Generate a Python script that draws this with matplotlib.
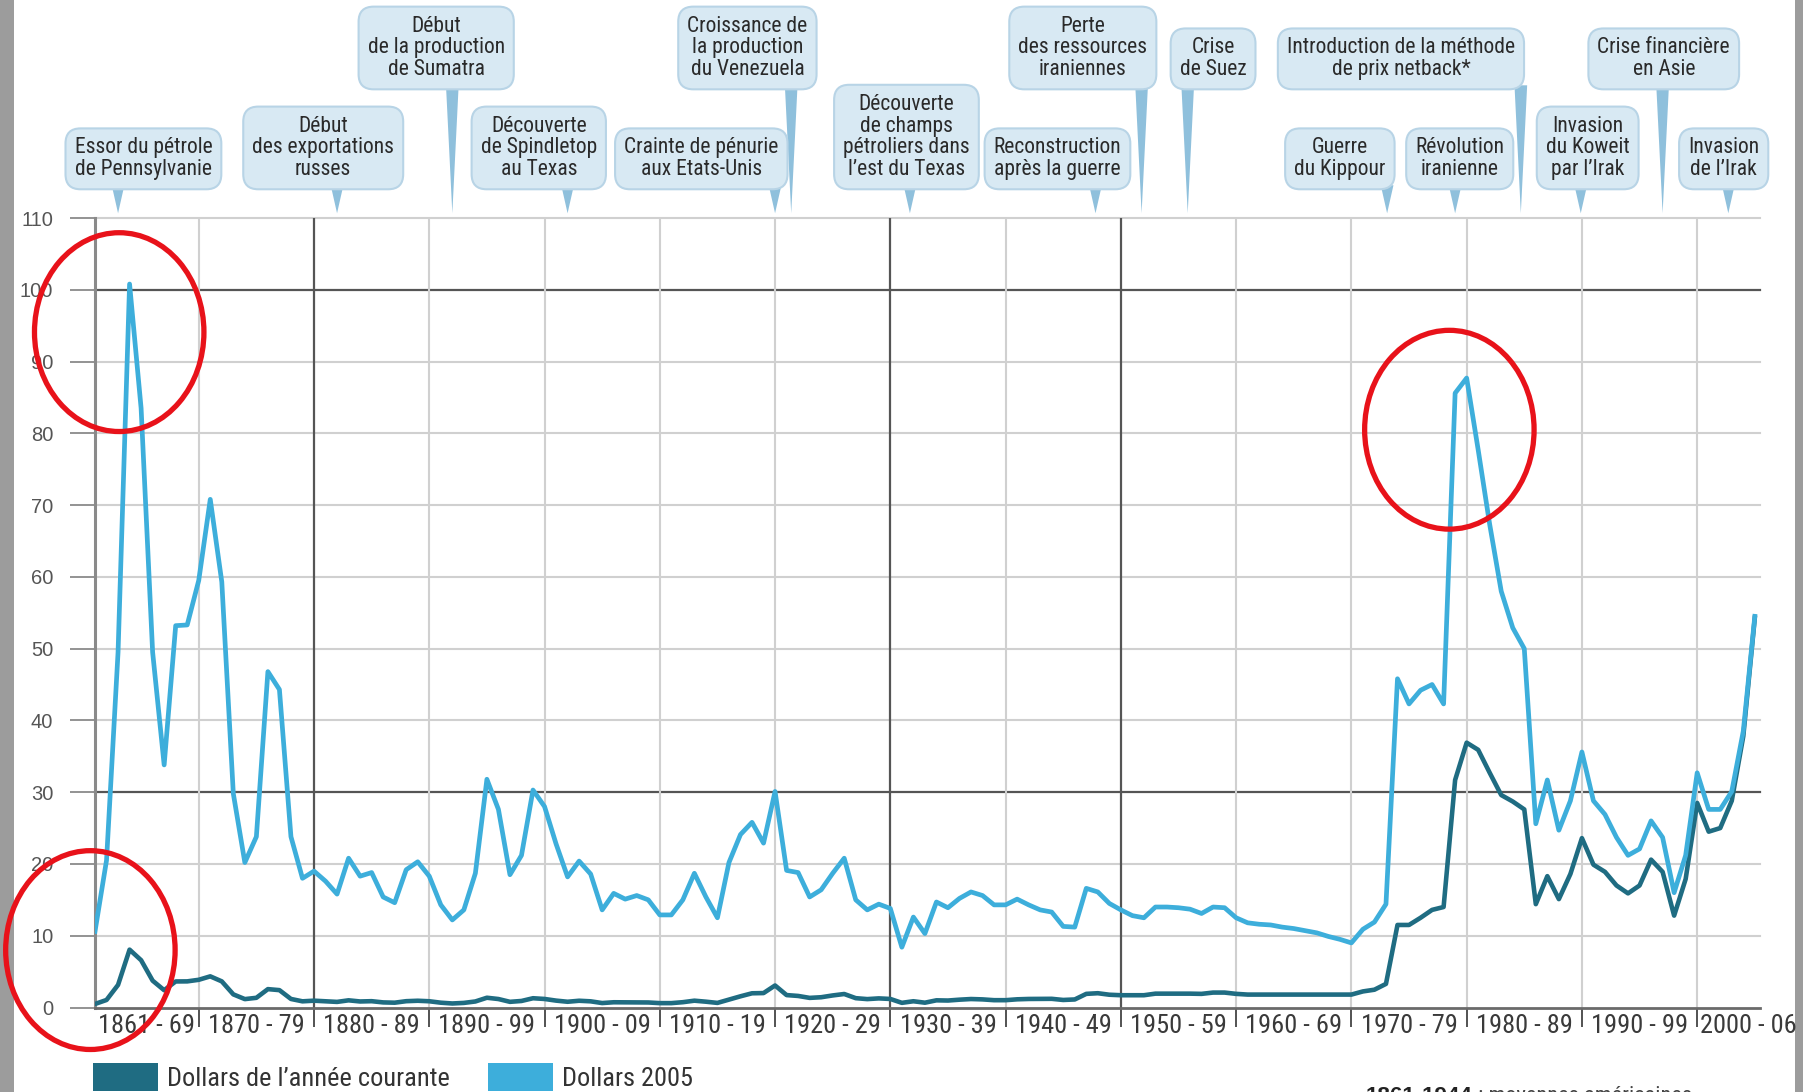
import numpy as np
import matplotlib.pyplot as plt
import matplotlib.transforms as mtransforms
from matplotlib import font_manager
from matplotlib.font_manager import FontProperties
from matplotlib.patches import Ellipse, Patch, Polygon, Rectangle

# Prix du brut, 1861-2005 ($ par baril)
annees = np.arange(1861, 2006)

prix_courant = [
    0.49, 1.05, 3.15, 8.06, 6.59, 3.74, 2.41, 3.63, 3.64,
    3.86, 4.34, 3.64, 1.83, 1.17, 1.35, 2.56, 2.42, 1.19, 0.86,
    0.95, 0.86, 0.78, 1.00, 0.84, 0.88, 0.71, 0.67, 0.88, 0.94,
    0.87, 0.67, 0.56, 0.64, 0.84, 1.36, 1.18, 0.79, 0.91, 1.29,
    1.19, 0.96, 0.80, 0.94, 0.86, 0.62, 0.73, 0.72, 0.72, 0.70,
    0.61, 0.61, 0.74, 0.95, 0.81, 0.64, 1.10, 1.56, 1.98, 2.01,
    3.07, 1.73, 1.61, 1.34, 1.43, 1.68, 1.88, 1.30, 1.17, 1.27,
    1.19, 0.65, 0.87, 0.67, 1.00, 0.97, 1.09, 1.18, 1.13, 1.02,
    1.02, 1.14, 1.19, 1.20, 1.21, 1.05, 1.12, 1.90, 1.99, 1.78,
    1.71, 1.71, 1.71, 1.93, 1.93, 1.93, 1.93, 1.90, 2.08, 2.08,
    1.90, 1.80, 1.80, 1.80, 1.80, 1.80, 1.80, 1.80, 1.80, 1.80,
    1.80, 2.24, 2.48, 3.29, 11.5, 11.5, 12.5, 13.6, 14.0, 31.7,
    36.9, 35.9, 32.7, 29.6, 28.7, 27.6, 14.4, 18.3, 15.1, 18.6,
    23.6, 19.9, 18.9, 17.0, 15.9, 17.0, 20.6, 18.9, 12.8, 17.9,
    28.5, 24.5, 25.0, 28.8, 37.8, 54.3,
]

prix_2005 = [
    10.6, 20.5, 49.5, 100.8, 83.5, 49.5, 33.8, 53.2, 53.3,
    59.5, 70.8, 59.3, 29.8, 20.2, 23.8, 46.8, 44.3, 23.8, 18.0,
    19.0, 17.6, 15.8, 20.8, 18.3, 18.8, 15.4, 14.6, 19.2, 20.3,
    18.3, 14.3, 12.2, 13.6, 18.7, 31.8, 27.6, 18.5, 21.2, 30.3,
    28.0, 22.8, 18.2, 20.4, 18.6, 13.6, 15.9, 15.1, 15.6, 15.0,
    12.9, 12.9, 15.0, 18.7, 15.4, 12.5, 20.2, 24.1, 25.8, 22.9,
    30.1, 19.1, 18.8, 15.4, 16.4, 18.7, 20.8, 15.0, 13.6, 14.4,
    13.8, 8.4, 12.6, 10.3, 14.7, 13.9, 15.2, 16.1, 15.6, 14.3,
    14.3, 15.1, 14.3, 13.6, 13.3, 11.3, 11.2, 16.6, 16.1, 14.5,
    13.6, 12.8, 12.5, 14.0, 14.0, 13.9, 13.7, 13.1, 14.0, 13.9,
    12.5, 11.8, 11.6, 11.5, 11.2, 11.0, 10.7, 10.4, 9.9, 9.5,
    9.0, 10.9, 11.9, 14.4, 45.8, 42.3, 44.2, 45.0, 42.3, 85.6,
    87.7, 77.7, 67.3, 58.0, 52.9, 50.0, 25.6, 31.7, 24.7, 28.8,
    35.6, 28.8, 26.9, 23.7, 21.2, 22.1, 26.0, 23.7, 16.0, 21.2,
    32.7, 27.6, 27.6, 30.1, 38.5, 54.5,
]

bornes = [1861, 1870, 1880, 1890, 1900, 1910, 1920, 1930, 1940,
          1950, 1960, 1970, 1980, 1990, 2000, 2005.45]
decennies = ['1861 - 69', '1870 - 79', '1880 - 89', '1890 - 99',
             '1900 - 09', '1910 - 19', '1920 - 29', '1930 - 39',
             '1940 - 49', '1950 - 59', '1960 - 69', '1970 - 79',
             '1980 - 89', '1990 - 99', '2000 - 06']

evenements = [
    'Essor du pétrole\nde Pennsylvanie',
    'Début\ndes exportations\nrusses',
    'Début\nde la production\nde Sumatra',
    'Découverte\nde Spindletop\nau Texas',
    'Crainte de pénurie\naux Etats-Unis',
    'Croissance de\nla production\ndu Venezuela',
    'Découverte\nde champs\npétroliers dans\nl’est du Texas',
    'Reconstruction\naprès la guerre',
    'Perte\ndes ressources\niraniennes',
    'Crise\nde Suez',
    'Introduction de la méthode\nde prix netback*',
    'Guerre\ndu Kippour',
    'Révolution\niranienne',
    'Invasion\ndu Koweit\npar l’Irak',
    'Crise financière\nen Asie',
    'Invasion\nde l’Irak',
]
annee_evenement = [1863, 1882, 1892, 1902, 1920, 1921.4, 1931.7, 1947.8,
                   1951.8, 1955.8, 1984.7, 1973.1, 1979, 1989.9, 1997, 2002.7]
centre_boite = [1865.2, 1880.8, 1890.6, 1899.5, 1913.6, 1917.6, 1931.4, 1944.5,
                1946.7, 1958.0, 1974.3, 1969.0, 1979.4, 1990.5, 1997.1, 2002.3]
rangee = [0, 0, 1, 0, 0, 1, 0, 0, 1, 1, 1, 0, 0, 0, 1, 0]

couleur_fonce = '#1f6c82'
couleur_claire = '#3daedb'
gris_clair = '#d0d0d0'
gris_fonce = '#555555'


def police_etroite():
    """Cherche une police condensée installée, sinon None."""
    ordre = ['liberation sans narrow', 'roboto condensed', 'open sans condensed',
             'noto sans', 'arial narrow']
    meilleur, rang_min = None, 99
    for f in font_manager.fontManager.ttflist:
        nom = f.name.lower()
        if 'dejavu' in nom or f.style != 'normal':
            continue
        if str(f.weight) not in ('400', 'normal', 'regular', 'book'):
            continue
        etire = str(f.stretch).lower()
        if not ('narrow' in nom or 'condensed' in nom
                or etire in ('condensed', 'semi-condensed')):
            continue
        rang = next((i for i, o in enumerate(ordre) if nom.startswith(o)), 50)
        if rang < rang_min:
            meilleur, rang_min = f, rang
    return FontProperties(fname=meilleur.fname) if meilleur else None


base = police_etroite()
etroit = base is not None
if base is None:
    base = FontProperties(family='Liberation Sans')


def police(taille):
    p = base.copy()
    p.set_size(taille)
    return p


if etroit:
    t_ticks, t_boite, t_legende, interligne = 19, 15.5, 19, 1.05
else:
    t_ticks, t_boite, t_legende, interligne = 14.5, 13, 15.5, 1.22

W, H = 1803, 1092
fig = plt.figure(figsize=(W / 100, H / 100), dpi=100)
ax = fig.add_axes([95 / W, 84.5 / H, 1665 / W, 789.5 / H])
ax.set_xlim(1861, 2005.45)
ax.set_ylim(0, 110)

# quadrillage : quelques lignes renforcées
for v in range(10, 111, 10):
    fort = v in (30, 100)
    ax.axhline(v, color=gris_fonce if fort else gris_clair,
               lw=1.6 if fort else 1.5, zorder=1, clip_on=False)
for b in bornes[1:-1]:
    fort = b in (1880, 1930, 1950)
    ax.axvline(b, color=gris_fonce if fort else gris_clair,
               lw=1.6 if fort else 1.5, zorder=1)

for s in ('top', 'right'):
    ax.spines[s].set_visible(False)
ax.spines['left'].set_color('#8a8a8a')
ax.spines['left'].set_linewidth(2.2)
ax.spines['bottom'].set_color('#6a6a6a')
ax.spines['bottom'].set_linewidth(2.0)

ax.plot(annees, prix_courant, color=couleur_fonce, lw=3.3, zorder=3,
        solid_joinstyle='round')
ax.plot(annees, prix_2005, color=couleur_claire, lw=3.4, zorder=4,
        solid_joinstyle='round')

ax.set_yticks(range(0, 111, 10))
ax.tick_params(axis='y', direction='out', length=18, width=1.3, color='#8a8a8a',
               pad=12, labelsize=14.5, labelcolor='#555555')
for t in ax.get_yticklabels():
    t.set_family('Liberation Sans')

# étiquettes centrées sur chaque décennie ; la dernière, plus courte,
# commence juste après le trait de l'an 2000
milieux = [(a + b) / 2 for a, b in zip(bornes[:-2], bornes[1:-1])]
milieux.append(bornes[-2] + 0.25)
ax.set_xticks(milieux)
etiquettes = ax.set_xticklabels(decennies, color='#3a3a3a')
for t in etiquettes:
    t.set_fontproperties(police(t_ticks))
etiquettes[-1].set_horizontalalignment('left')
ax.set_xticks(bornes[1:-1], minor=True)
ax.tick_params(axis='x', which='major', length=0, pad=5)
ax.tick_params(axis='x', which='minor', direction='out', length=14, width=1.3,
               color='#444444')

# bulles d'événements au-dessus du graphique
trans = mtransforms.blended_transform_factory(ax.transData, ax.transAxes)
px = 1 / 789.5
bas_rangee = [1.0364, 1.163]
pad_pts = 6.5
for texte, an, cx, r in zip(evenements, annee_evenement, centre_boite, rangee):
    bas = bas_rangee[r]
    pointe = Polygon([(an - 0.55, bas + 4 * px), (an + 0.55, bas + 4 * px),
                      (an, 1.006)], closed=True, transform=trans,
                     fc='#8fc0dc', ec='none', clip_on=False, zorder=5)
    ax.add_patch(pointe)
    ax.text(cx, bas + pad_pts * 100 / 72 * px, texte, transform=trans,
            ha='center', va='bottom', multialignment='center',
            fontproperties=police(t_boite), color='#2a2a2a',
            linespacing=interligne, zorder=6, clip_on=False,
            bbox=dict(boxstyle='round,pad=0.42,rounding_size=0.7',
                      fc='#d8e9f3', ec='#b8d4e6', lw=1.5))

# cercles rouges
for (cx, cy) in [(1863.1, 94.1), (1860.6, 8.0), (1978.5, 80.5)]:
    ax.add_patch(Ellipse((cx, cy), 14.7, 27.7, fill=False, ec='#e8121a',
                         lw=3.8, clip_on=False, zorder=10))

poignees = [Patch(fc=couleur_fonce, ec='none', label='Dollars de l’année courante'),
            Patch(fc=couleur_claire, ec='none', label='Dollars 2005')]
fig.legend(handles=poignees, loc='lower left', bbox_to_anchor=(92 / W, 0.0),
           ncol=2, frameon=False, prop=police(t_legende),
           labelcolor='#333333', handlelength=2.45, handleheight=1.25,
           handletextpad=0.35, columnspacing=1.45, borderpad=0.05,
           borderaxespad=0)

# note en bas à droite, coupée par le bord de l'image
renderer = fig.canvas.get_renderer()
t1 = fig.text(1366 / W, 6 / H, '1861-1944', ha='left', va='top',
              family='Liberation Sans', fontsize=t_legende * 0.85,
              fontweight='bold', color='#222222')
x1 = t1.get_window_extent(renderer).x1
fig.text(x1 / W, 6 / H, ' : moyennes américaines', ha='left', va='top',
         fontproperties=police(t_legende * 0.85), color='#444444')

# bandes grises sur les côtés
fig.add_artist(Rectangle((0, 0), 14 / W, 1, transform=fig.transFigure,
                         fc='#9c9c9c', ec='none', zorder=-1))
fig.add_artist(Rectangle((1795 / W, 0), 8 / W, 1, transform=fig.transFigure,
                         fc='#9c9c9c', ec='none', zorder=-1))

fig.savefig('out.png', dpi=100)
